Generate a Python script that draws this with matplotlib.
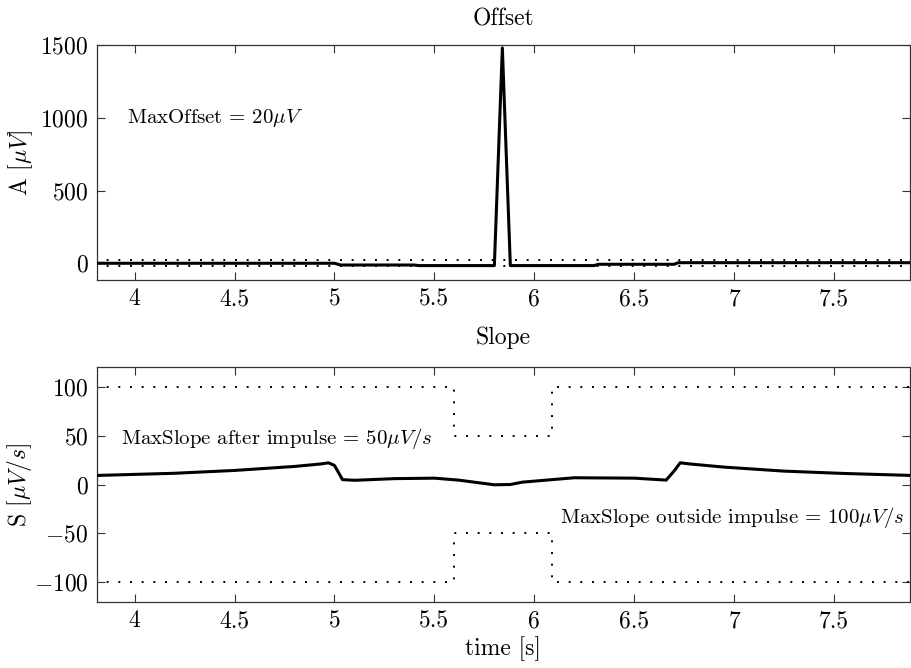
import matplotlib
matplotlib.use("Agg")
import matplotlib.pyplot as plt
import numpy as np

plt.rcParams["font.family"] = ["cmr10", "DejaVu Serif"]
plt.rcParams["mathtext.fontset"] = "cm"
plt.rcParams["axes.formatter.use_mathtext"] = True

# Offset panel: signal amplitude (uV) vs time (s)
offset_t = [3.8, 5.0, 5.03, 5.4, 5.42, 5.80, 5.84, 5.88, 6.3, 6.32, 6.7, 6.72, 7.9]
offset_a = [0, 0, -12, -12, -16, -16, 1480, -16, -16, -7, -7, 4, 4]
max_offset = 20

# Slope panel: signal slope (uV/s) vs time (s)
slope_t = [3.8, 4.2, 4.5, 4.8, 4.93, 4.97, 5.0, 5.04, 5.1, 5.3, 5.5, 5.62, 5.80, 5.88, 5.94,
           6.2, 6.5, 6.62, 6.66, 6.70, 6.73, 6.78, 6.95, 7.25, 7.55, 7.9]
slope_s = [9.2, 11.5, 14.4, 18.5, 21.0, 22.2, 19.5, 5.0, 4.3, 6.0, 6.5, 4.5, -0.3, 0.0, 2.4,
           6.9, 6.5, 5.0, 4.5, 14.0, 22.2, 21.0, 17.8, 13.7, 11.3, 9.2]

# slope limits: tighter inside the impulse window
limit_t = [3.8, 5.6, 5.6, 6.09, 6.09, 7.9]
limit_upper = [100, 100, 50, 50, 100, 100]
limit_lower = [-100, -100, -50, -50, -100, -100]

W, H = 911, 668
FS = 17
fig = plt.figure(figsize=(W / 100, H / 100), dpi=100)
left, right = 96.7 / W, 910 / W
ax1 = fig.add_axes([left, 1 - 280 / H, right - left, (280 - 45) / H])
ax2 = fig.add_axes([left, 1 - 601.7 / H, right - left, (601.7 - 367.3) / H])

dot = (0, (1, 5))
line_kw = dict(color="black", linewidth=2.2, solid_joinstyle="round", zorder=3)
dot_kw = dict(color="black", linewidth=1.4, linestyle=dot, zorder=2)

ax1.plot([3.8, 7.9], [max_offset, max_offset], **dot_kw)
ax1.plot([3.8, 7.9], [-max_offset, -max_offset], **dot_kw)
ax1.plot(offset_t, offset_a, **line_kw)
ax1.set_ylim(-115, 1500)
ax1.set_yticks([0, 500, 1000, 1500])
ax1.set_title("Offset", fontsize=FS, pad=14)
ax1.set_ylabel(r"A [$\mu V$]", fontsize=FS, labelpad=4)
ax1.text(3.96, 1000, r"MaxOffset = 20$\mu V$", fontsize=15, ha="left", va="center")

ax2.plot(limit_t, limit_upper, **dot_kw)
ax2.plot(limit_t, limit_lower, **dot_kw)
ax2.plot(slope_t, slope_s, **line_kw)
ax2.set_ylim(-120, 120)
ax2.set_yticks([-100, -50, 0, 50, 100])
ax2.set_title("Slope", fontsize=FS, pad=17)
ax2.set_ylabel(r"S [$\mu V/s$]", fontsize=FS, labelpad=0)
ax2.set_xlabel("time [s]", fontsize=FS, labelpad=3)
ax2.text(3.93, 47, r"MaxSlope after impulse = 50$\mu V/s$", fontsize=15, ha="left", va="center")
ax2.text(7.85, -34, r"MaxSlope outside impulse = 100$\mu V/s$", fontsize=15, ha="right", va="center")

for ax in (ax1, ax2):
    ax.set_xlim(3.81, 7.88)
    ax.set_xticks([4, 4.5, 5, 5.5, 6, 6.5, 7, 7.5])
    ax.set_xticklabels(["4", "4.5", "5", "5.5", "6", "6.5", "7", "7.5"])
    ax.tick_params(direction="in", top=True, right=True, length=6, width=0.8,
                   labelsize=FS, pad=6, color="#333333")
    for s in ax.spines.values():
        s.set_linewidth(0.9)
        s.set_color("#333333")

fig.savefig("out.png", dpi=100)
